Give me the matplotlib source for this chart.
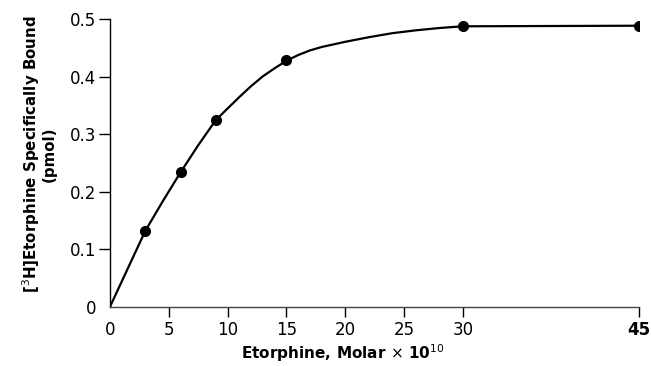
import matplotlib.pyplot as plt

# measured points (Etorphine x 1e10 M, pmol bound)
conc = [3, 6, 9, 15, 30, 45]
bound = [0.132, 0.234, 0.325, 0.429, 0.488, 0.488]

# hand-drawn fitted curve
curve_x = [0, 1.5, 3, 4.5, 6, 7.5, 9, 10, 11, 12, 13, 14, 15, 16, 17, 18, 20,
           22, 24, 26, 28, 30, 45]
curve_y = [0, 0.066, 0.132, 0.184, 0.234, 0.281, 0.325, 0.345, 0.365, 0.384,
           0.401, 0.415, 0.428, 0.438, 0.446, 0.452, 0.461, 0.469, 0.476,
           0.481, 0.485, 0.488, 0.489]

xticks = [0, 5, 10, 15, 20, 25, 30, 45]
yticks = [0, 0.1, 0.2, 0.3, 0.4, 0.5]
ytick_labels = ["0", "0.1", "0.2", "0.3", "0.4", "0.5"]

fig = plt.figure(figsize=(6.51, 3.66), dpi=100)
ax = fig.add_axes([0.169, 0.162, 0.813, 0.785])

ax.plot(curve_x, curve_y, color="black", linewidth=1.6, solid_capstyle="round")
ax.plot(conc, bound, "o", color="black", markersize=7)

ax.set_xlim(0, 45)
ax.set_ylim(0, 0.5)
ax.spines["top"].set_visible(False)
ax.spines["right"].set_visible(False)
ax.spines["left"].set_linewidth(1.0)
ax.spines["bottom"].set_linewidth(1.0)
ax.spines["bottom"].set_color("#444444")

ax.set_xticks(xticks)
ax.set_xticklabels([str(t) for t in xticks], family="DejaVu Sans", fontsize=12)
ax.get_xticklabels()[-1].set_fontweight("bold")
ax.set_yticks(yticks)
ax.set_yticklabels(ytick_labels, family="DejaVu Sans", fontsize=12)
ax.tick_params(axis="x", length=7, width=1.0, pad=3)
ax.tick_params(axis="y", length=8, width=1.0, pad=2)
ax.xaxis.get_major_ticks()[0].tick1line.set_visible(False)
ax.yaxis.get_major_ticks()[0].tick1line.set_visible(False)

ax.set_xlabel(r"Etorphine, Molar $\times$ 10$^{10}$", family="DejaVu Sans",
              fontweight="bold", fontsize=11)
ax.xaxis.set_label_coords(0.44, -0.125)
ax.set_ylabel("[$^3$H]Etorphine Specifically Bound\n(pmol)", family="DejaVu Sans",
              fontweight="bold", fontsize=10.8, linespacing=1.0)
ax.yaxis.set_label_coords(-0.10, 0.53)

fig.savefig("out.png", dpi=100)
